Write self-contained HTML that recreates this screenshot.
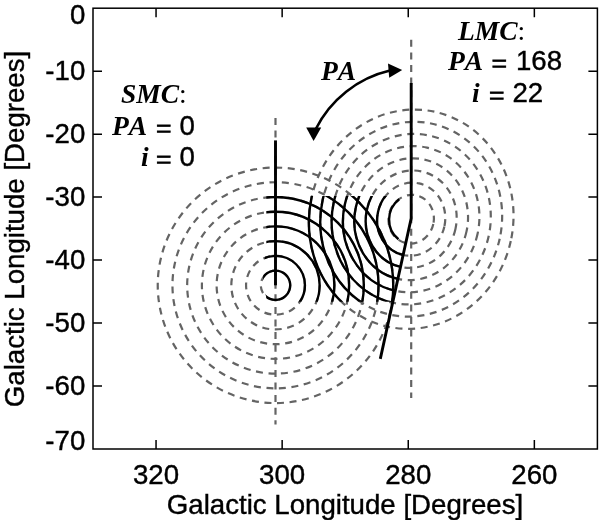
<!DOCTYPE html><html><head><meta charset="utf-8"><title>Magellanic Clouds position angle</title>
<style>html,body{margin:0;padding:0;background:#fff}svg{display:block}text{font-family:"Liberation Sans",sans-serif;fill:#000;stroke:#000;stroke-width:.4px}.s{stroke:none;font-family:"Liberation Serif",serif;font-weight:bold;font-style:italic;font-kerning:none}.r{stroke:none;font-family:"Liberation Serif",serif}</style></head><body>
<svg width="600" height="520" viewBox="0 0 600 520">
<rect width="600" height="520" fill="#fff"/>
<g fill="none" stroke="#646464" stroke-width="2.2" stroke-dasharray="7 5.6">
<circle cx="275.5" cy="285.3" r="14.72"/>
<circle cx="275.5" cy="285.3" r="29.44"/>
<circle cx="275.5" cy="285.3" r="44.16"/>
<circle cx="275.5" cy="285.3" r="58.88"/>
<circle cx="275.5" cy="285.3" r="73.60"/>
<circle cx="275.5" cy="285.3" r="88.32"/>
<circle cx="275.5" cy="285.3" r="103.04"/>
<circle cx="275.5" cy="285.3" r="117.76"/>
<ellipse cx="411.2" cy="219.2" rx="22.66" ry="24.44" transform="rotate(12.4 411.2 219.2)"/>
<ellipse cx="411.2" cy="219.2" rx="33.98" ry="36.66" transform="rotate(12.4 411.2 219.2)"/>
<ellipse cx="411.2" cy="219.2" rx="45.31" ry="48.88" transform="rotate(12.4 411.2 219.2)"/>
<ellipse cx="411.2" cy="219.2" rx="56.64" ry="61.10" transform="rotate(12.4 411.2 219.2)"/>
<ellipse cx="411.2" cy="219.2" rx="67.97" ry="73.32" transform="rotate(12.4 411.2 219.2)"/>
<ellipse cx="411.2" cy="219.2" rx="79.30" ry="85.54" transform="rotate(12.4 411.2 219.2)"/>
<ellipse cx="411.2" cy="219.2" rx="90.62" ry="97.76" transform="rotate(12.4 411.2 219.2)"/>
<ellipse cx="411.2" cy="219.2" rx="101.95" ry="109.98" transform="rotate(12.4 411.2 219.2)"/>
<path d="M275.5 117.9V424.6"/>
<path d="M411.2 39.8V398"/>
</g>
<defs><clipPath id="c"><polygon points="266.3,196.0 411.2,196.0 411.2,218.3 392.84,301.8 266.2,301.8 266.2,297 263.1,285 263.1,276 264.6,259 266.3,243"/></clipPath></defs>
<g fill="none" stroke="#000" stroke-width="2.4" clip-path="url(#c)">
<circle cx="275.5" cy="285.3" r="14.72"/>
<circle cx="275.5" cy="285.3" r="29.44"/>
<circle cx="275.5" cy="285.3" r="44.16"/>
<circle cx="275.5" cy="285.3" r="58.88"/>
<circle cx="275.5" cy="285.3" r="73.60"/>
<circle cx="275.5" cy="285.3" r="88.32"/>
<circle cx="275.5" cy="285.3" r="103.04"/>
<circle cx="275.5" cy="285.3" r="117.76"/>
<ellipse cx="411.2" cy="219.2" rx="33.98" ry="36.66" transform="rotate(12.4 411.2 219.2)"/>
<ellipse cx="411.2" cy="219.2" rx="45.31" ry="48.88" transform="rotate(12.4 411.2 219.2)"/>
<ellipse cx="411.2" cy="219.2" rx="56.64" ry="61.10" transform="rotate(12.4 411.2 219.2)"/>
<ellipse cx="411.2" cy="219.2" rx="67.97" ry="73.32" transform="rotate(12.4 411.2 219.2)"/>
<ellipse cx="411.2" cy="219.2" rx="79.30" ry="85.54" transform="rotate(12.4 411.2 219.2)"/>
<ellipse cx="411.2" cy="219.2" rx="90.62" ry="97.76" transform="rotate(12.4 411.2 219.2)"/>
<ellipse cx="411.2" cy="219.2" rx="101.95" ry="109.98" transform="rotate(12.4 411.2 219.2)"/>
</g>
<path d="M399.2 199.2A22.66 24.44 12.4 0 0 398.5 239.2" fill="none" stroke="#000" stroke-width="2.4"/>
<path d="M275.5 140.4V285.3" fill="none" stroke="#000" stroke-width="2.9"/>
<path d="M411.2 83V218.3L380.30 358.84" fill="none" stroke="#000" stroke-width="2.9" stroke-linejoin="miter"/>
<path d="M390 70.6A111.4 111.4 0 0 0 315.5 129.5" fill="none" stroke="#000" stroke-width="2.6"/>
<polygon points="402.2,70 388,63.4 389.2,77.8" fill="#000"/>
<polygon points="313.6,141 306.2,127.4 321.2,127.4" fill="#000"/>
<rect x="93.0" y="8.2" width="504.4" height="440.8" fill="none" stroke="#000" stroke-width="1.5"/>
<g stroke="#000" stroke-width="1.5">
<path d="M156.05 8.2v9M156.05 449.0v-9"/>
<path d="M282.15 8.2v9M282.15 449.0v-9"/>
<path d="M408.25 8.2v9M408.25 449.0v-9"/>
<path d="M534.35 8.2v9M534.35 449.0v-9"/>
<path d="M93.0 71.17h9M597.4 71.17h-9"/>
<path d="M93.0 134.14h9M597.4 134.14h-9"/>
<path d="M93.0 197.11h9M597.4 197.11h-9"/>
<path d="M93.0 260.09h9M597.4 260.09h-9"/>
<path d="M93.0 323.06h9M597.4 323.06h-9"/>
<path d="M93.0 386.03h9M597.4 386.03h-9"/>
</g>
<g font-size="27.65" text-anchor="middle">
<text x="156.05" y="484.2">320</text>
<text x="282.15" y="484.2">300</text>
<text x="408.25" y="484.2">280</text>
<text x="534.35" y="484.2">260</text>
<text x="345" y="513.5">Galactic Longitude [Degrees]</text>
<text transform="translate(24 229) rotate(-90)">Galactic Longitude [Degrees]</text>
</g>
<g font-size="27.65" text-anchor="end">
<text x="85.3" y="24.20">0</text>
<text x="85.3" y="80.37">-10</text>
<text x="85.3" y="143.34">-20</text>
<text x="85.3" y="206.31">-30</text>
<text x="85.3" y="269.29">-40</text>
<text x="85.3" y="332.26">-50</text>
<text x="85.3" y="395.23">-60</text>
<text x="85.3" y="450.30">-70</text>
</g>
<text x="121" y="103" font-size="27.5"><tspan class="s">SMC</tspan><tspan class="r">:</tspan></text>
<text x="112" y="135" font-size="27.5" class="s">PA</text><text x="156" y="138" font-size="27.5" class="r" style="stroke:#000;stroke-width:.9px">=</text><text x="179.4" y="135" font-size="27.65">0</text>
<text x="141" y="166" font-size="27.5" class="s">i</text><text x="156" y="169" font-size="27.5" class="r" style="stroke:#000;stroke-width:.9px">=</text><text x="179.4" y="166" font-size="27.65">0</text>
<text x="458" y="40" font-size="27.5"><tspan class="s">LMC</tspan><tspan class="r">:</tspan></text>
<text x="448" y="70" font-size="27.5" class="s">PA</text><text x="491.5" y="73" font-size="27.5" class="r" style="stroke:#000;stroke-width:.9px">=</text><text x="516" y="70" font-size="27.65">168</text>
<text x="472" y="101.5" font-size="27.5" class="s">i</text><text x="489" y="104.5" font-size="27.5" class="r" style="stroke:#000;stroke-width:.9px">=</text><text x="512.5" y="101.5" font-size="27.65">22</text>
<text x="321" y="80.2" font-size="27.5" class="s">PA</text>
</svg></body></html>
